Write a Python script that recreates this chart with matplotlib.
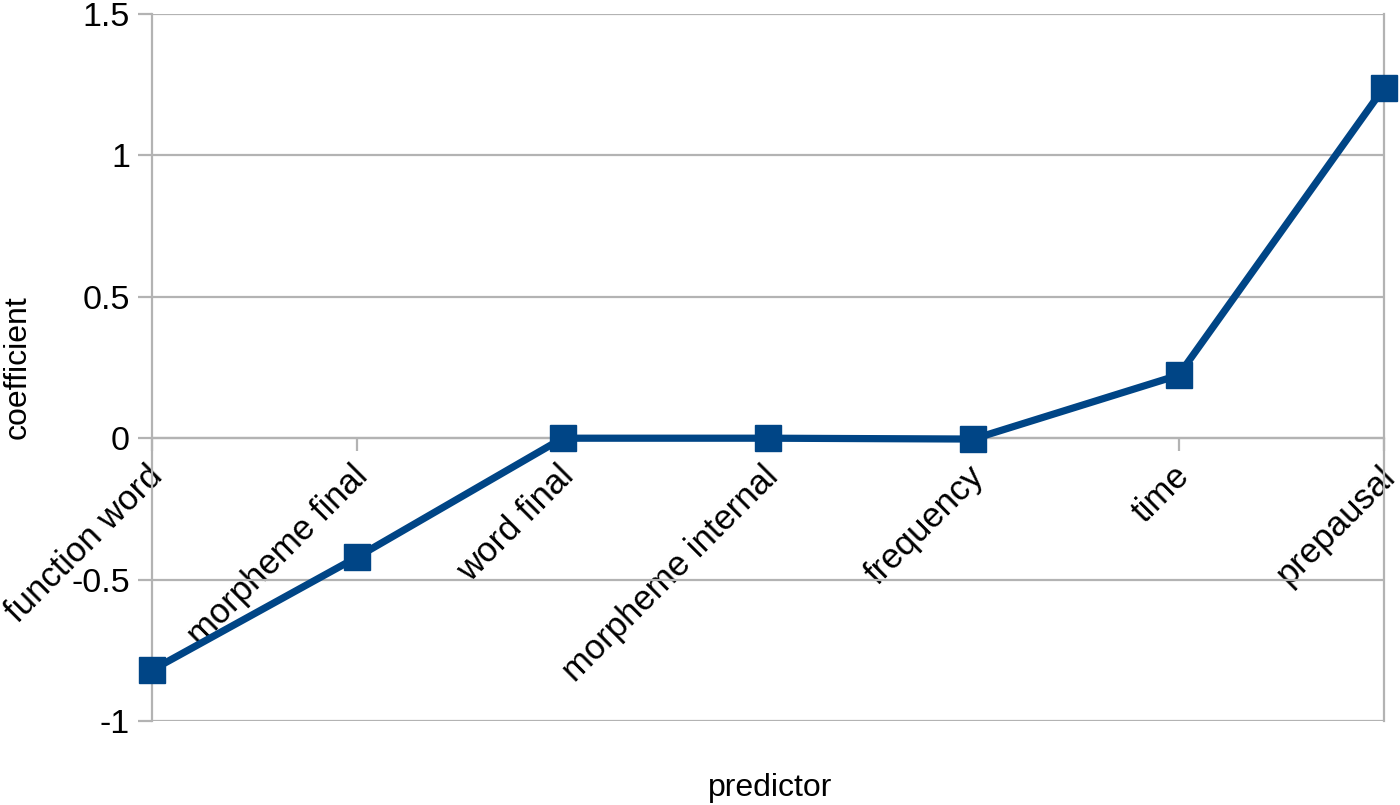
import matplotlib
matplotlib.use("Agg")
from matplotlib import pyplot as plt
from matplotlib.transforms import ScaledTranslation

# data
predictors = ["function word", "morpheme final", "word final", "morpheme internal",
              "frequency", "time", "prepausal"]
coefficients = [-0.82, -0.42, 0.0, 0.0, -0.003, 0.223, 1.24]
yticks = [-1, -0.5, 0, 0.5, 1, 1.5]
ytick_labels = ["-1", "-0.5", "0", "0.5", "1", "1.5"]

plt.rcParams['font.family'] = ['Liberation Sans', 'DejaVu Sans']
plt.rcParams['axes.unicode_minus'] = False

grid_col = "#b3b3b3"
line_col = "#004586"

fig = plt.figure(figsize=(14, 8.05), dpi=100)
ax = fig.add_axes([152/1400, 1 - 721/805, (1384-152)/1400, (721-14)/805])

x = list(range(len(predictors)))
ax.plot(x, coefficients, color=line_col, linewidth=5.2, marker='s', markersize=19,
        clip_on=False, zorder=5)

ax.set_xlim(0, len(predictors) - 1)
ax.set_ylim(-1, 1.5)
ax.set_yticks(yticks)
ax.set_yticklabels(ytick_labels, fontsize=24.5)
ax.yaxis.grid(True, color=grid_col, linewidth=1.6)
ax.set_axisbelow(True)

# x axis sits on the zero line
ax.spines['bottom'].set_position(('data', 0))
for s in ['left', 'right', 'bottom']:
    ax.spines[s].set_color(grid_col)
    ax.spines[s].set_linewidth(1.6)
ax.spines['top'].set_visible(False)

ax.set_xticks(x)
ax.set_xticklabels(predictors, fontsize=25, rotation=45, ha='right', va='top',
                   rotation_mode='anchor')
ax.tick_params(axis='x', direction='out', length=9, width=1.6, color=grid_col, pad=5)
ax.tick_params(axis='y', direction='out', length=10, width=1.6, color=grid_col, pad=6)

# nudge the slanted labels a bit left so the last one stays inside the picture
shift = ScaledTranslation(-6/100, -2/100, fig.dpi_scale_trans)
for lab in ax.get_xticklabels():
    lab.set_transform(lab.get_transform() + shift)

fig.text(770/1400, 1 - 788/805, "predictor", fontsize=23, ha='center', va='center')
fig.text(18/1400, 1 - 367/805, "coefficient", fontsize=23, rotation=90,
         ha='center', va='center')

fig.savefig("out.png", dpi=100)
